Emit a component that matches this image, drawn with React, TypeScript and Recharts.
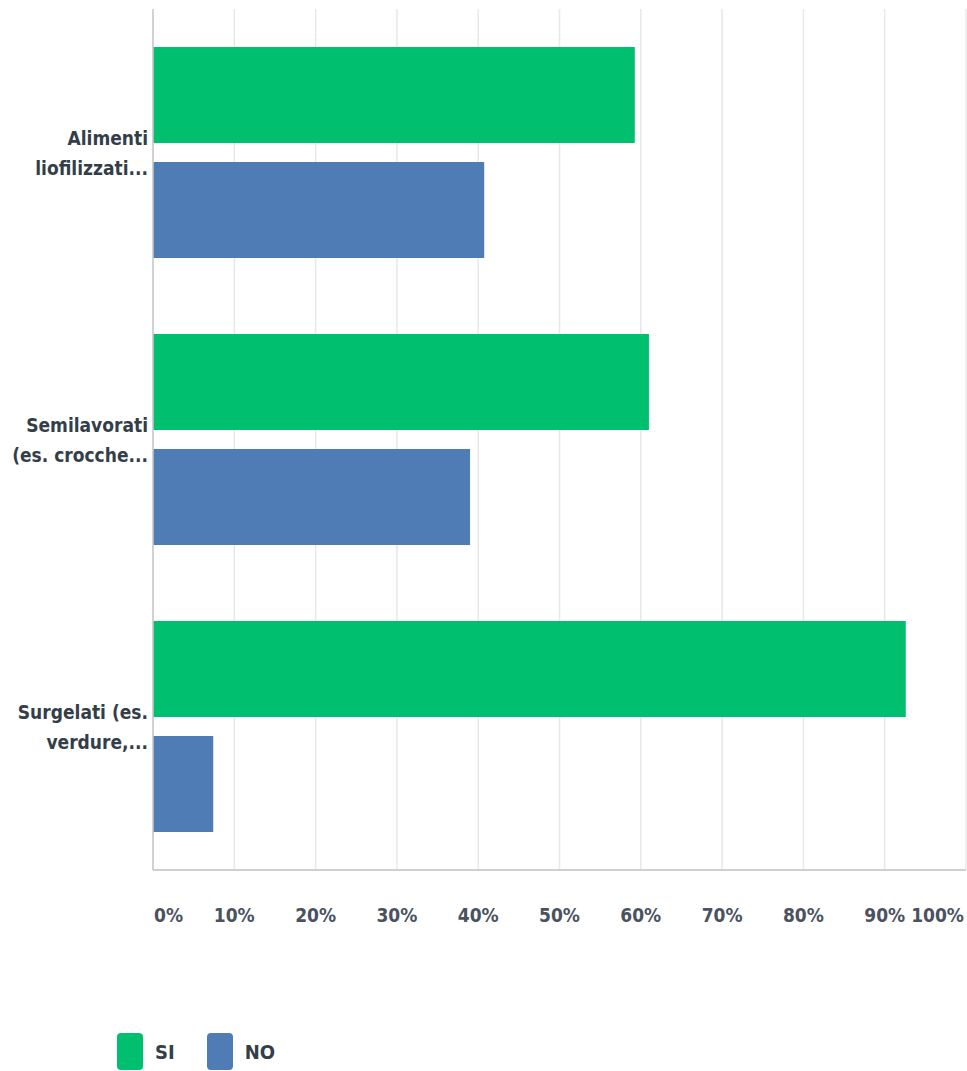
import React from 'react';
import { BarChart, Bar, XAxis, YAxis, CartesianGrid } from 'recharts';

const categories = ['Alimenti\nliofilizzati...', 'Semilavorati\n(es. crocche...', 'Surgelati (es.\nverdure,...'];
const siValues = [59.26, 61.0, 92.59];
const noValues = [40.74, 39.0, 7.41];
const xTicks = [0, 10, 20, 30, 40, 50, 60, 70, 80, 90, 100];

const FONT = "'DejaVu Sans Condensed', 'Liberation Sans Narrow', 'DejaVu Sans', sans-serif";
const GREEN = '#00bf6f';
const BLUE = '#507cb6';

const data = categories.map((name, i) => ({ name, si: siValues[i], no: noValues[i] }));

const YTick = (props: any) => {
  const { x, y, payload } = props;
  const lines: string[] = String(payload.value).split('\n');
  return (
    <g>
      {lines.map((line, i) => (
        <text
          key={i}
          x={x - 5}
          y={y + (i - (lines.length - 1) / 2) * 30}
          textAnchor="end"
          dominantBaseline="central"
          fill="#333e48"
          fontFamily={FONT}
          fontSize={19}
          fontWeight={700}
          style={{ fontStretch: 'condensed' }}
        >
          {line}
        </text>
      ))}
    </g>
  );
};

const XTick = (props: any) => {
  const { x, y, payload } = props;
  const v = payload.value;
  const anchor = v === 0 ? 'start' : v === 100 ? 'end' : 'middle';
  return (
    <text
      x={v === 0 ? x + 1 : v === 100 ? x - 2 : x}
      y={y + 45}
      textAnchor={anchor}
      dominantBaseline="central"
      fill="#4a5260"
      fontFamily={FONT}
      fontSize={19}
      fontWeight={700}
      style={{ fontStretch: 'condensed' }}
    >
      {`${v}%`}
    </text>
  );
};

const LegendItem: React.FC<{ color: string; label: string }> = ({ color, label }) => (
  <div style={{ display: 'flex', alignItems: 'center', marginRight: 32 }}>
    <div style={{ width: 26, height: 37, background: color, borderRadius: 4 }} />
    <span style={{ marginLeft: 12, fontFamily: FONT, fontSize: 20, fontWeight: 700, fontStretch: 'condensed', color: '#333e48' }}>{label}</span>
  </div>
);

const App: React.FC = () => {
  return (
    <div style={{ position: 'absolute', left: 0, top: 0, width: 967, height: 1071, background: '#fff' }}>
      <BarChart
        width={967}
        height={950}
        data={data}
        layout="vertical"
        margin={{ top: 9, right: 1, left: 0, bottom: 0 }}
        barSize={96}
        barGap={19}
      >
        <CartesianGrid horizontal={false} stroke="#e8e8e8" strokeWidth={1.5} />
        <XAxis
          type="number"
          domain={[0, 100]}
          ticks={xTicks}
          height={80}
          tickLine={false}
          tickSize={0}
          tickMargin={0}
          axisLine={{ stroke: '#d0d0d0', strokeWidth: 2 }}
          tick={<XTick />}
          interval={0}
        />
        <YAxis
          type="category"
          dataKey="name"
          width={153}
          tickLine={false}
          tickSize={0}
          tickMargin={0}
          axisLine={{ stroke: '#c8c8c8', strokeWidth: 1.5 }}
          tick={<YTick />}
        />
        <Bar dataKey="si" name="SI" fill={GREEN} isAnimationActive={false} />
        <Bar dataKey="no" name="NO" fill={BLUE} isAnimationActive={false} />
      </BarChart>
      <div style={{ position: 'absolute', left: 117, top: 1033, display: 'flex' }}>
        <LegendItem color={GREEN} label="SI" />
        <LegendItem color={BLUE} label="NO" />
      </div>
    </div>
  );
};

export default App;
